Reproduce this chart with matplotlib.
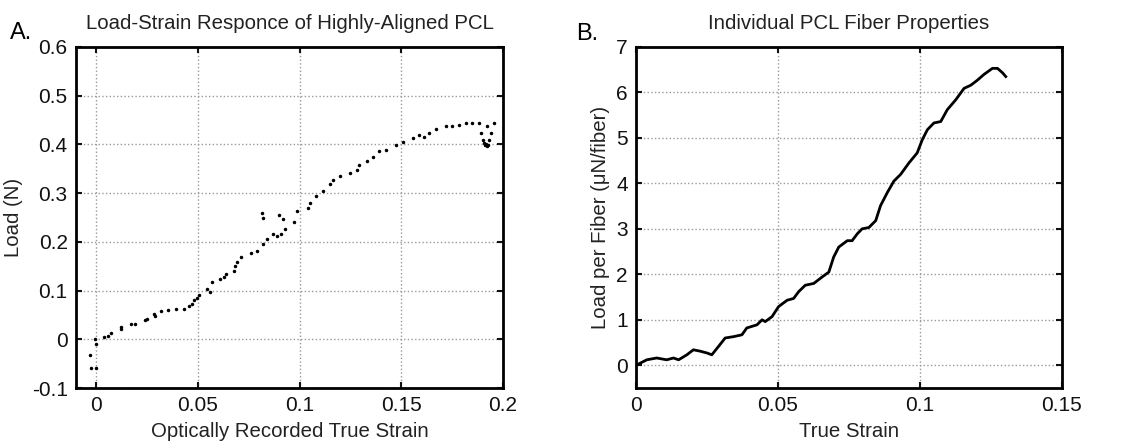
import matplotlib
matplotlib.use("Agg")
import matplotlib.pyplot as plt

plt.rcParams["font.family"] = ["Liberation Sans", "DejaVu Sans"]

# Panel A: optically recorded strain vs load (scatter)
strain_a = [-0.0033, -0.0024, 0.0, -0.0008, 0.0, 0.004, 0.0057, 0.0073, 0.012, 0.012,
            0.017, 0.019, 0.024, 0.025, 0.0285, 0.029, 0.032, 0.035, 0.039, 0.043,
            0.0456, 0.047, 0.048, 0.0495, 0.0505, 0.0545, 0.056, 0.057, 0.061, 0.063,
            0.064, 0.0675, 0.068, 0.069, 0.071, 0.076, 0.079, 0.082, 0.084, 0.087,
            0.089, 0.091, 0.093, 0.0814, 0.082, 0.0896, 0.092, 0.097, 0.0985, 0.104,
            0.105, 0.108, 0.1116, 0.115, 0.1165, 0.1197, 0.1246, 0.128, 0.129, 0.133,
            0.136, 0.139, 0.1425, 0.1474, 0.1507, 0.1555, 0.1588, 0.161, 0.1637, 0.167,
            0.1718, 0.175, 0.1783, 0.1816, 0.185, 0.188, 0.189, 0.19, 0.1906, 0.191,
            0.192, 0.193, 0.194, 0.192, 0.1954, 0.1915, 0.1925]
load_a = [-0.033, -0.059, -0.059, 0.001, -0.009, 0.005, 0.006, 0.012, 0.022, 0.026,
          0.032, 0.031, 0.039, 0.042, 0.052, 0.048, 0.059, 0.061, 0.063, 0.063,
          0.069, 0.072, 0.08, 0.085, 0.09, 0.103, 0.097, 0.117, 0.124, 0.128,
          0.134, 0.141, 0.15, 0.158, 0.168, 0.178, 0.182, 0.195, 0.205, 0.216,
          0.213, 0.216, 0.226, 0.26, 0.25, 0.256, 0.246, 0.24, 0.263, 0.27,
          0.28, 0.294, 0.304, 0.318, 0.328, 0.335, 0.341, 0.348, 0.358, 0.365,
          0.375, 0.386, 0.389, 0.399, 0.406, 0.413, 0.42, 0.416, 0.424, 0.431,
          0.437, 0.438, 0.44, 0.444, 0.444, 0.444, 0.423, 0.41, 0.403, 0.399,
          0.396, 0.41, 0.423, 0.437, 0.444, 0.40, 0.398]

# Panel B: load per fiber vs true strain (line)
strain_b = [0.0, 0.0038, 0.0073, 0.0108, 0.0132, 0.015, 0.0179, 0.0202, 0.0226, 0.025,
            0.0267, 0.029, 0.0314, 0.0344, 0.0373, 0.039, 0.0426, 0.0444, 0.0455, 0.0479,
            0.0502, 0.0532, 0.0555, 0.0573, 0.0596, 0.0626, 0.0655, 0.0679, 0.0696, 0.0714,
            0.0744, 0.0761, 0.0779, 0.0796, 0.082, 0.0844, 0.0861, 0.0885, 0.0908, 0.0932,
            0.0961, 0.099, 0.1008, 0.1026, 0.1049, 0.1073, 0.1096, 0.1126, 0.1155, 0.1179,
            0.1202, 0.1226, 0.1255, 0.1273, 0.1291, 0.1302]
load_b = [0.0, 0.12, 0.16, 0.12, 0.16, 0.12, 0.23, 0.34, 0.31, 0.27,
          0.23, 0.41, 0.6, 0.63, 0.67, 0.82, 0.89, 1.0, 0.96, 1.07,
          1.29, 1.43, 1.47, 1.62, 1.76, 1.8, 1.94, 2.05, 2.38, 2.6,
          2.74, 2.74, 2.89, 3.0, 3.03, 3.18, 3.51, 3.8, 4.05, 4.2,
          4.45, 4.67, 4.96, 5.18, 5.33, 5.36, 5.62, 5.84, 6.09, 6.16,
          6.27, 6.4, 6.53, 6.53, 6.43, 6.35]

xticks_a = [0, 0.05, 0.1, 0.15, 0.2]
yticks_a = [-0.1, 0, 0.1, 0.2, 0.3, 0.4, 0.5, 0.6]
xticks_b = [0, 0.05, 0.1, 0.15]
yticks_b = [0, 1, 2, 3, 4, 5, 6, 7]


def style(ax, xticks, yticks):
    ax.set_xticks(xticks)
    ax.set_yticks(yticks)
    ax.set_xticklabels([f"{v:g}" for v in xticks])
    ax.set_yticklabels([f"{v:g}" for v in yticks])
    ax.tick_params(direction="in", length=4, width=1.5, top=True, right=True,
                   labelsize=15, pad=6, colors="#111")
    ax.grid(True, linestyle=":", color="#999", linewidth=1)
    for sp in ax.spines.values():
        sp.set_linewidth(2)


fig = plt.figure(figsize=(11.25, 4.42), dpi=100)
ax1 = fig.add_axes([76 / 1125, 1 - 388 / 442, 427 / 1125, 341 / 442])
ax2 = fig.add_axes([636 / 1125, 1 - 388 / 442, 426 / 1125, 341 / 442])

ax1.plot(strain_a, load_a, ".", color="black", markersize=3)
ax1.set_xlim(-0.01, 0.2)
ax1.set_ylim(-0.1, 0.6)
style(ax1, xticks_a, yticks_a)
ax1.set_title("Load-Strain Responce of Highly-Aligned PCL", fontsize=14.7, pad=13, color="#222")
ax1.set_xlabel("Optically Recorded True Strain", fontsize=14.7, labelpad=4.5, color="#222")
ax1.set_ylabel("Load (N)", fontsize=14.7, labelpad=6, color="#222")

ax2.plot(strain_b, load_b, "-", color="black", linewidth=2)
ax2.set_xlim(0, 0.15)
ax2.set_ylim(-0.5, 7)
style(ax2, xticks_b, yticks_b)
ax2.set_title("Individual PCL Fiber Properties", fontsize=14.7, pad=13, color="#222")
ax2.set_xlabel("True Strain", fontsize=14.7, labelpad=4.5, color="#222")
ax2.set_ylabel("Load per Fiber (μN/fiber)", fontsize=14.7, labelpad=4, color="#222")

fig.text(10 / 1125, 1 - 33 / 442, "A.", fontsize=17, va="center", ha="left")
fig.text(576 / 1125, 1 - 34 / 442, "B.", fontsize=17, va="center", ha="left")

fig.savefig("out.png", dpi=100)
